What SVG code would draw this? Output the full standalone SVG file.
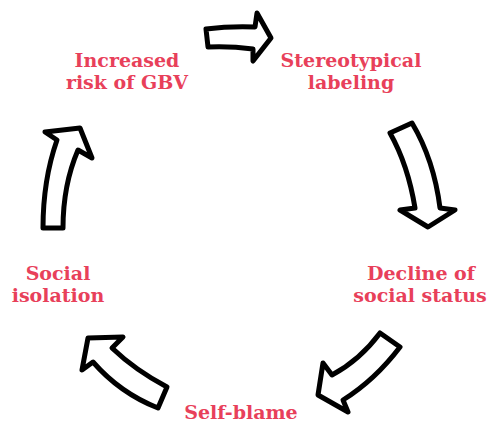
<svg xmlns="http://www.w3.org/2000/svg" width="488" height="423" viewBox="0 0 488 423">
<style>
.arrow{fill:#fff;stroke:#000;stroke-width:5;stroke-linejoin:round;stroke-linecap:round}
.lbl{font-family:"DejaVu Serif","Liberation Serif",serif;font-weight:bold;font-size:19px;fill:#E8405A;text-anchor:middle}
</style>
<rect width="488" height="423" fill="#fff"/>
<g id="connectors">
<path class="arrow" d="M206,29 Q230,26 255,27 L257,13 L271,38 L253,61 L253,49 Q230,46 208,47 Z"/>
<path class="arrow" d="M390,133 L412,123 Q434,160 440,208 L455,210 L428,227 L400,210 L415,208 Q408,165 390,133 Z"/>
<path class="arrow" d="M380,333 L400,347 Q375,380 343,400 L348,412 L318,395 L323,363 L332,375 Q360,360 380,333 Z"/>
<path class="arrow" d="M158,408 L167,387 Q135,370 112,348 L123,337 L88,338 L82,370 L93,362 Q120,393 158,408 Z"/>
<path class="arrow" d="M43,228 L63,228 Q63,185 78,150 L92,158 L80,128 L45,132 L57,140 Q43,180 43,228 Z"/>
</g>
<g id="n1"><text class="lbl" x="127" y="67">Increased</text><text class="lbl" x="127" y="89">risk of GBV</text></g>
<g id="n2"><text class="lbl" x="351" y="67">Stereotypical</text><text class="lbl" x="351" y="89">labeling</text></g>
<g id="n3"><text class="lbl" x="421" y="280">Decline of</text><text class="lbl" x="420" y="302">social status</text></g>
<g id="n4"><text class="lbl" x="241" y="419">Self-blame</text></g>
<g id="n5"><text class="lbl" x="58" y="280">Social</text><text class="lbl" x="58" y="302">isolation</text></g>
</svg>
